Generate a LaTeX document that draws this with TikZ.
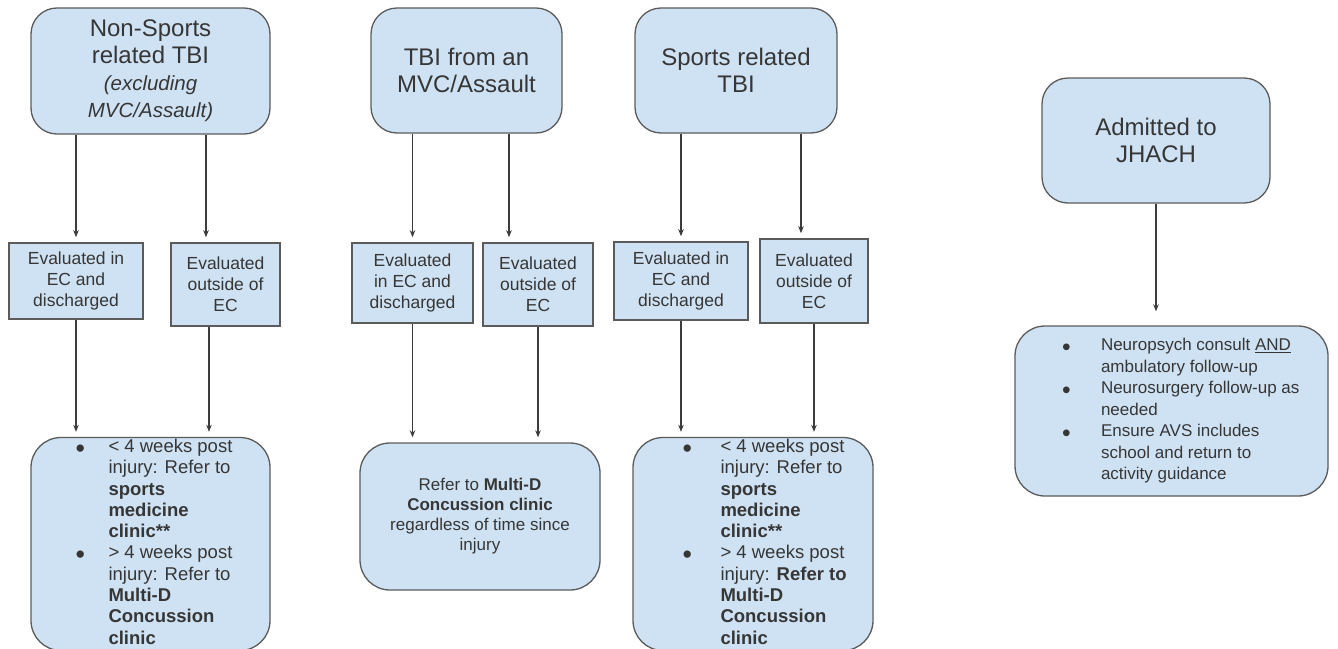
\documentclass[tikz,border=0pt]{standalone}
\usepackage{fontspec}
\setmainfont{Liberation Sans}
\usepackage{array}
\usepackage{tikz}
\usetikzlibrary{arrows.meta}
\definecolor{boxblue}{HTML}{CFE2F3}
\definecolor{edgegray}{HTML}{5B5B5B}
\definecolor{txtgray}{HTML}{363636}
\definecolor{arrgray}{HTML}{3C3C3C}
\newcommand{\bdot}{\raisebox{-5pt}{\scalebox{1.45}{\textbullet}}}
\tikzset{
  topbox/.style={draw=edgegray, fill=boxblue, line width=1.3pt, rounded corners=26pt, text=txtgray, align=center, inner sep=0pt, font=\fontsize{24}{27}\selectfont},
  evalbox/.style={draw=edgegray, fill=boxblue, line width=1.6pt, text=txtgray, align=center, inner sep=0pt, font=\fontsize{17.5}{21}\selectfont},
  referbox/.style={draw=edgegray, fill=boxblue, line width=1.3pt, rounded corners=30pt, text=txtgray, inner sep=0pt, font=\fontsize{18.5}{21.3}\selectfont},
  arr/.style={draw=arrgray, line width=1.4pt, -{Stealth[length=7pt,width=5.5pt]}, shorten >=5pt}
}
\begin{document}
\begin{tikzpicture}[x=1pt,y=-1pt]
\useasboundingbox[fill=white] (0,0) rectangle (1338,648);
\node[topbox, minimum width=239pt, minimum height=126pt] (nsp) at (150.5,71) {Non-Sports\\related TBI\\{\fontsize{20.5}{27}\selectfont\itshape (excluding}\\{\fontsize{20.5}{27}\selectfont\itshape MVC/Assault)}};
\node[topbox, minimum width=191pt, minimum height=125pt] (mvc) at (466.5,70.5) {TBI from an\\MVC/Assault};
\node[topbox, minimum width=202pt, minimum height=125pt] (spt) at (736,70.5) {Sports related\\TBI};
\node[topbox, minimum width=228pt, minimum height=125pt] (adm) at (1156,140.5) {Admitted to\\JHACH};
\node[evalbox, minimum width=134pt, minimum height=76pt] (e1) at (76,281) {Evaluated in\\EC and\\discharged};
\node[evalbox, minimum width=109pt, minimum height=83pt] (e2) at (225.5,284.5) {Evaluated\\outside of\\EC};
\node[evalbox, minimum width=121pt, minimum height=80pt] (e3) at (412.5,283) {Evaluated\\in EC and\\discharged};
\node[evalbox, minimum width=110pt, minimum height=83pt] (e4) at (538,284.5) {Evaluated\\outside of\\EC};
\node[evalbox, minimum width=134pt, minimum height=78pt] (e5) at (681,281) {Evaluated in\\EC and\\discharged};
\node[evalbox, minimum width=108pt, minimum height=84pt] (e6) at (814,281) {Evaluated\\outside of\\EC};
\node[referbox, minimum width=239pt, minimum height=209pt] (b1) at (150.5,544) {%
\begin{tabular}{@{\hspace{18pt}}p{33pt}@{}>{\raggedright\arraybackslash}p{135pt}@{}}
\bdot & < 4 weeks post\newline injury: Refer to\newline \textbf{sports}\newline \textbf{medicine}\newline \textbf{clinic**}\\
\bdot & > 4 weeks post\newline injury: Refer to\newline \textbf{Multi-D}\newline \textbf{Concussion}\newline \textbf{clinic}
\end{tabular}};
\node[referbox, align=center, minimum width=240pt, minimum height=147pt, font=\fontsize{17}{20}\selectfont] (b2) at (480,516.5) {Refer to \textbf{Multi-D}\\\textbf{Concussion clinic}\\regardless of time since\\injury};
\node[referbox, minimum width=240pt, minimum height=211pt] (b3) at (753,544) {%
\begin{tabular}{@{\hspace{32pt}}p{38pt}@{}>{\raggedright\arraybackslash}p{135pt}@{}}
\bdot & < 4 weeks post\newline injury: Refer to\newline \textbf{sports}\newline \textbf{medicine}\newline \textbf{clinic**}\\
\bdot & > 4 weeks post\newline injury: \textbf{Refer to}\newline \textbf{Multi-D}\newline \textbf{Concussion}\newline \textbf{clinic}
\end{tabular}};
\node[referbox, minimum width=313pt, minimum height=170pt, font=\fontsize{17}{21.5}\selectfont] (b4) at (1171.5,411) {%
\begin{tabular}{@{\hspace{25pt}}p{39pt}@{}>{\raggedright\arraybackslash}p{205pt}@{}}
\bdot & Neuropsych consult \underline{AND}\newline ambulatory follow-up\\
\bdot & Neurosurgery follow-up as\newline needed\\
\bdot & Ensure AVS includes\newline school and return to\newline activity guidance
\end{tabular}};
\coordinate (e2in) at ([xshift=-19.5pt]e2.north);
\coordinate (e2out) at ([xshift=-16.5pt]e2.south);
\coordinate (e4in) at ([xshift=-29pt]e4.north);
\coordinate (e6in) at ([xshift=-13pt]e6.north);
\draw[arr] (e1.north |- nsp.south) -- (e1.north);
\draw[arr] (e2in |- nsp.south) -- (e2in);
\draw[arr] (e3.north |- mvc.south) -- (e3.north);
\draw[arr] (e4in |- mvc.south) -- (e4in);
\draw[arr] (e5.north |- spt.south) -- (e5.north);
\draw[arr] (e6in |- spt.south) -- (e6in);
\draw[arr] (e1.south) -- (e1.south |- b1.north);
\draw[arr] (e2out) -- (e2out |- b1.north);
\draw[arr] (e3.south) -- (e3.south |- b2.north);
\draw[arr] (e4.south) -- (e4.south |- b2.north);
\draw[arr] (e5.south) -- (e5.south |- b3.north);
\draw[arr] (e6.south) -- (e6.south |- b3.north);
\draw[arr, shorten >=14pt] (adm) -- (adm.south |- b4.north);
\end{tikzpicture}
\end{document}
